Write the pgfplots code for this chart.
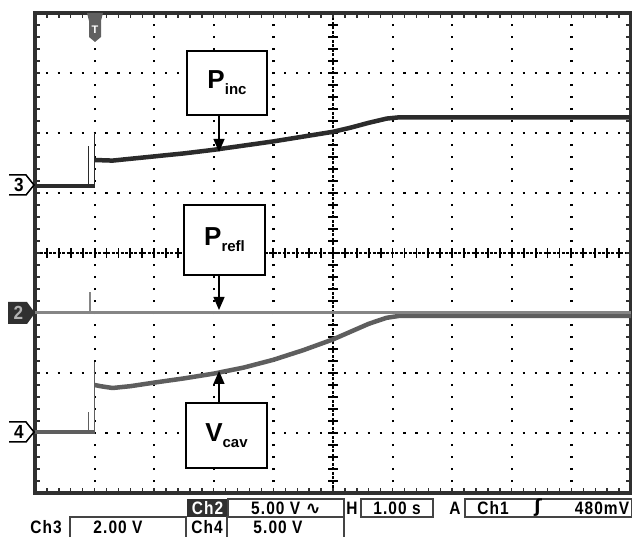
\documentclass[border=0pt]{standalone}
\usepackage{pgfplots}
\pgfplotsset{compat=1.18}
\usepackage{fontspec}
\setmainfont{Liberation Sans}
\newfontfamily\scopefont{Liberation Sans}[FakeStretch=0.86, LetterSpace=6]
\newfontfamily\markfont{Liberation Sans}[FakeStretch=0.9]
\newfontfamily\symfont{DejaVu Sans}
\usetikzlibrary{arrows.meta}
\definecolor{frame}{HTML}{303030}
\definecolor{chthree}{HTML}{2B2B2B}
\definecolor{chtwo}{HTML}{858585}
\definecolor{chfour}{HTML}{5E5E5E}
\definecolor{boxc}{HTML}{444444}
\newcommand{\lbl}[2]{{\fontsize{26}{26}\selectfont\bfseries #1}\raisebox{-6pt}{\fontsize{15}{15}\selectfont\bfseries #2}}
\begin{document}
\begin{tikzpicture}[x=1pt,y=1pt]
\path[use as bounding box] (0,0) rectangle (632,537);
% grid
\begin{scope}[shift={(35,44)}, x=59.6pt, y=60pt]
  \foreach \i in {1,2,3,4,6,7,8,9}
    \draw[line width=2.2pt, dash pattern=on 2.2pt off 9.8pt, dash phase=1.1pt] (\i,0) -- (\i,8);
  \foreach \j in {1,2,3,5,6,7}
    \draw[line width=2.2pt, dash pattern=on 2.2pt off 9.72pt, dash phase=1.1pt] (0,\j) -- (10,\j);
  % center lines
  \draw[line width=1.8pt, dash pattern=on 3pt off 1.5pt] (0,4) -- (10,4);
  \draw[line width=1.8pt, dash pattern=on 3pt off 1.5pt] (5,0) -- (5,8);
  \foreach \k in {0,...,50}
    \draw[line width=1.8pt] (\k*0.2,4) ++(0,-5pt) -- ++(0,10pt);
  \foreach \k in {0,...,40}
    \draw[line width=1.8pt] (5,\k*0.2) ++(-5pt,0) -- ++(10pt,0);
  % frame inner ticks
  \foreach \k in {0,...,50} {
    \draw[line width=1.4pt, frame] (\k*0.2,0) -- ++(0,5pt);
    \draw[line width=1.4pt, frame] (\k*0.2,8) -- ++(0,-5pt);
  }
  \foreach \k in {0,...,40} {
    \draw[line width=1.4pt, frame] (0,\k*0.2) -- ++(5pt,0);
    \draw[line width=1.4pt, frame] (10,\k*0.2) -- ++(-5pt,0);
  }
\end{scope}
\begin{axis}[at={(35pt,44pt)}, anchor=south west, scale only axis,
  width=596pt, height=480pt, xmin=0, xmax=10, ymin=-4, ymax=4,
  xtick=\empty, ytick=\empty,
  axis line style={line width=3.5pt, color=frame}]
% Ch4 (V_cav)
\addplot[chfour, line width=4pt, line join=round] coordinates {(0,-2.98) (1.0,-2.98)};
\addplot[chfour, line width=1.5pt] coordinates {(0.9,-2.98) (0.9,-2.65)};
\addplot[chfour, line width=1.5pt] coordinates {(1.0,-2.98) (1.0,-1.82)};
\addplot[chfour, line width=4.5pt, line join=round] coordinates {
 (1.0,-2.2) (1.1,-2.22) (1.3,-2.25) (1.6,-2.22) (2.0,-2.16) (2.5,-2.09)
 (3.0,-2.01) (3.5,-1.91) (4.0,-1.78) (4.5,-1.62) (5.0,-1.44) (5.3,-1.31)
 (5.6,-1.18) (5.9,-1.08) (6.1,-1.05) (10,-1.05)};
% Ch2 (P_refl)
\addplot[chtwo, line width=3.5pt] coordinates {(0,-0.99) (10,-0.99)};
\addplot[chtwo, line width=1.5pt] coordinates {(0.92,-0.99) (0.92,-0.65)};
% Ch3 (P_inc)
\addplot[chthree, line width=4pt, line join=round] coordinates {(0,1.12) (1.0,1.12)};
\addplot[chthree, line width=1.5pt] coordinates {(0.9,1.12) (0.9,1.78)};
\addplot[chthree, line width=1.5pt] coordinates {(1.0,1.12) (1.0,2.0)};
\addplot[chthree, line width=4.5pt, line join=round] coordinates {
 (1.0,1.55) (1.3,1.54) (1.6,1.57) (2.0,1.61) (2.5,1.66) (3.0,1.72)
 (3.5,1.79) (4.0,1.86) (4.5,1.94) (5.0,2.02) (5.3,2.09) (5.6,2.17)
 (5.9,2.24) (6.1,2.26) (10,2.26)};
\end{axis}
% annotation boxes
\node[draw, line width=1.3pt, fill=white, minimum width=80pt, minimum height=64pt, inner sep=0pt] at (227,454) {\lbl{P}{inc}};
\draw[line width=1.3pt, -{Triangle[width=11pt,length=13pt]}] (219,422) -- (219,385);
\node[draw, line width=1.3pt, fill=white, minimum width=81pt, minimum height=70pt, inner sep=0pt] at (224.5,297) {\lbl{P}{refl}};
\draw[line width=1.3pt, -{Triangle[width=11pt,length=13pt]}] (219,262) -- (219,227);
\node[draw, line width=1.3pt, fill=white, minimum width=81pt, minimum height=65pt, inner sep=0pt] at (226.5,101.5) {\lbl{V}{cav}};
\draw[line width=1.3pt, -{Triangle[width=11pt,length=13pt]}] (219,134) -- (219,166);
% left level markers
\draw[line width=1.5pt] (9,362) -- (26,362) -- (34,352) -- (26,342) -- (9,342);
\node[font=\markfont\bfseries\fontsize{19}{19}\selectfont] at (19,352) {3};
\fill[frame] (8,235) -- (27,235) -- (35,224) -- (27,213) -- (8,213) -- cycle;
\node[text=gray!60, font=\markfont\bfseries\fontsize{19}{19}\selectfont] at (18.5,224) {2};
\draw[line width=1.5pt] (9,115) -- (26,115) -- (34,105) -- (26,95) -- (9,95);
\node[font=\markfont\bfseries\fontsize{19}{19}\selectfont] at (19,105) {4};
% trigger marker
\fill[gray!75!black] (87,524) -- (103,524) -- (101,516) -- (101,500) -- (95,495) -- (89,500) -- (89,516) -- cycle;
\node[text=white, font=\bfseries\fontsize{11}{11}\selectfont] at (95,507) {T};
% bottom readout
\begin{scope}[every node/.style={font=\scopefont\bfseries\fontsize{18}{18}\selectfont, inner sep=0pt}]
\fill[frame] (187,20) rectangle (228,38);
\node[text=white] at (207.5,29) {Ch2};
\draw[boxc, line width=1.3pt] (228,20) rectangle (344,38);
\node at (286,29) {5.00 V {\symfont ∿}};
\node at (352,29) {H};
\draw[boxc, line width=1.3pt] (361,20) rectangle (433,38);
\node at (397,29) {1.00 s};
\node at (455,29) {A};
\draw[boxc, line width=1.3pt] (465,20) rectangle (631.5,38);
\node at (493,29) {Ch1};
\node at (538,29) {{\symfont\bfseries ʃ}};
\node at (602,29) {480mV};
\node at (46,10) {Ch3};
\draw[boxc, line width=1.3pt] (70,0) -- (70,20) -- (186,20) -- (186,0);
\node at (118,10) {2.00 V};
\node at (207,10) {Ch4};
\draw[boxc, line width=1.3pt] (227,0) -- (227,20) -- (344,20) -- (344,0);
\node at (278,10) {5.00 V};
\end{scope}
\end{tikzpicture}
\end{document}
